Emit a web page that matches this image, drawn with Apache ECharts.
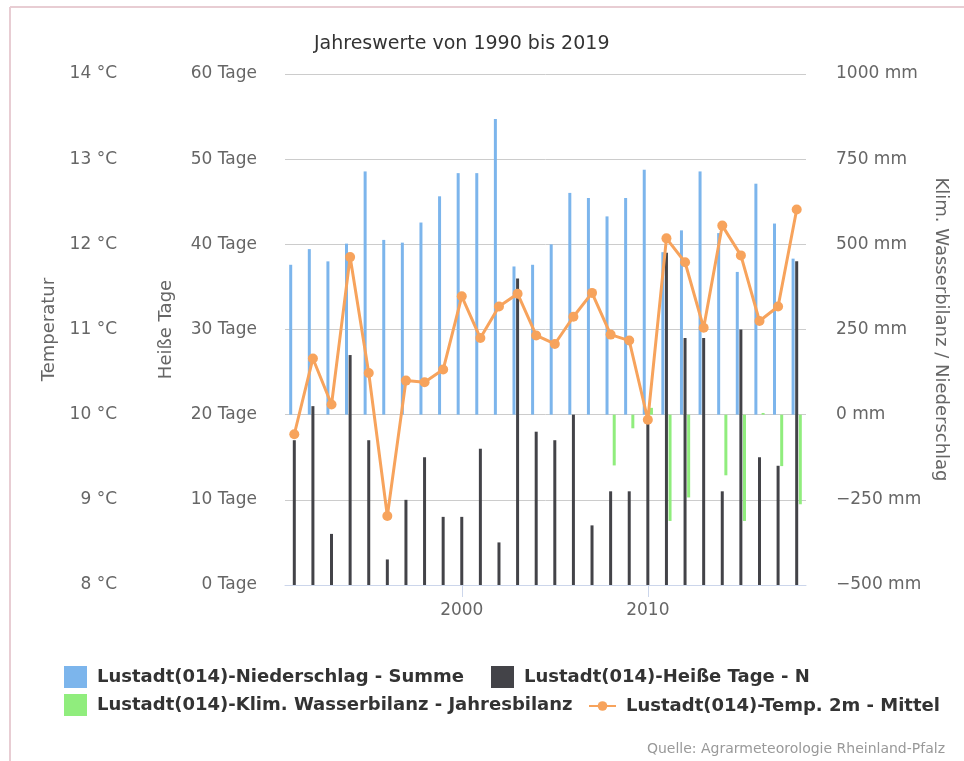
<!DOCTYPE html>
<html>
<head>
<meta charset="utf-8">
<script src="https://cdn.jsdelivr.net/npm/echarts@6/dist/echarts.min.js"></script>
<style>
html,body{margin:0;padding:0;background:#fff;}
#chart{width:964px;height:761px;}
</style>
</head>
<body>
<div id="chart"></div>
<script>
const years = ['1991','1992','1993','1994','1995','1996','1997','1998','1999','2000','2001','2002','2003','2004','2005','2006','2007','2008','2009','2010','2011','2012','2013','2014','2015','2016','2017','2018'];
const niederschlag = [440,486,450,502,714,513,505,564,641,709,709,868,435,440,500,651,636,582,636,719,477,541,714,533,419,678,561,458];
const heisseTage = [17,21,6,27,17,3,10,15,8,8,16,5,36,18,17,20,7,11,11,19,39,29,29,11,30,15,14,38];
const wasserbilanz = [null,null,null,null,null,null,null,null,null,null,null,null,null,null,null,null,null,-149,-40,20,-312,-243,0,-178,-312,5,-151,-263];
const temperatur = [9.77,10.66,10.12,11.85,10.49,8.81,10.40,10.38,10.53,11.39,10.90,11.27,11.42,10.93,10.83,11.15,11.43,10.94,10.87,9.94,12.07,11.79,11.02,12.22,11.87,11.10,11.27,12.41];
const xLabels = ['2000','2010'];

const names = {
  n: 'Lustadt(014)-Niederschlag - Summe',
  h: 'Lustadt(014)-Heiße Tage - N',
  w: 'Lustadt(014)-Klim. Wasserbilanz - Jahresbilanz',
  t: 'Lustadt(014)-Temp. 2m - Mittel'
};
const FONT = 'DejaVu Sans';
const labelStyle = {color:'#666', fontFamily:FONT, fontSize:17};
const nameStyle = {color:'#666', fontFamily:FONT, fontSize:18};
const legendText = {color:'#333', fontFamily:FONT, fontSize:18, fontWeight:'bold', padding:[0,0,0,5]};
const showX = (i, v) => xLabels.indexOf(v) >= 0;

const chart = echarts.init(document.getElementById('chart'), null, {renderer:'canvas'});
chart.setOption({
  animation:false,
  backgroundColor:'#fff',
  title:[
    {text:'Jahreswerte von 1990 bis 2019', left:309, top:30,
     textStyle:{color:'#333', fontFamily:FONT, fontSize:19, fontWeight:'normal'}},
    {text:'Quelle: Agrarmeteorologie Rheinland-Pfalz', right:14, top:737,
     textStyle:{color:'#999', fontFamily:FONT, fontSize:14, fontWeight:'normal'}}
  ],
  graphic:[
    {type:'line', shape:{x1:10,y1:7,x2:964,y2:7}, style:{stroke:'#e8cdd3', lineWidth:2}, silent:true},
    {type:'line', shape:{x1:10,y1:7,x2:10,y2:761}, style:{stroke:'#e8cdd3', lineWidth:2}, silent:true}
  ],
  legend:[
    {data:[{name:names.n, icon:'rect'}], left:64, top:666, padding:0, itemWidth:23, itemHeight:22, textStyle:legendText, selectedMode:false},
    {data:[{name:names.h, icon:'rect'}], left:491, top:666, padding:0, itemWidth:23, itemHeight:22, textStyle:legendText, selectedMode:false},
    {data:[{name:names.w, icon:'rect'}], left:64, top:694, padding:0, itemWidth:23, itemHeight:22, textStyle:legendText, selectedMode:false},
    {data:[{name:names.t}], left:588, top:697, padding:0, itemWidth:27, itemHeight:12, textStyle:legendText, selectedMode:false}
  ],
  grid:{left:285, right:158, top:74, bottom:176, containLabel:false},
  xAxis:{
    type:'category', data:years, boundaryGap:true,
    axisLine:{show:true, lineStyle:{color:'#ccd6eb', width:1}},
    axisTick:{show:true, interval:showX, alignWithLabel:true, length:12, lineStyle:{color:'#ccd6eb'}},
    axisLabel:{interval:showX, margin:17, ...labelStyle},
    splitLine:{show:false}
  },
  yAxis:[
    {type:'value', position:'left', offset:162, min:8, max:14, interval:1,
     name:'Temperatur', nameLocation:'middle', nameGap:58, nameTextStyle:nameStyle,
     axisLine:{show:false}, axisTick:{show:false},
     axisLabel:{margin:6, formatter:v => v + ' °C', ...labelStyle},
     splitLine:{show:true, lineStyle:{color:'#cccccc', width:1}}},
    {type:'value', position:'left', offset:22, min:0, max:60, interval:10,
     name:'Heiße Tage', nameLocation:'middle', nameGap:88, nameTextStyle:nameStyle,
     axisLine:{show:false}, axisTick:{show:false},
     axisLabel:{margin:6, formatter:v => v + ' Tage', ...labelStyle},
     splitLine:{show:false}},
    {type:'value', position:'right', offset:22, min:-500, max:1000, interval:250,
     name:'Klim. Wasserbilanz / Niederschlag', nameLocation:'middle', nameGap:102, nameRotate:-90, nameTextStyle:nameStyle,
     axisLine:{show:false}, axisTick:{show:false},
     axisLabel:{margin:8, formatter:v => (v < 0 ? '\u2212' + Math.abs(v) : v) + ' mm', ...labelStyle},
     splitLine:{show:false}}
  ],
  series:[
    {name:names.n, type:'bar', yAxisIndex:2, data:niederschlag, barWidth:3, barGap:'20%',
     itemStyle:{color:'#7cb5ec'}},
    {name:names.h, type:'bar', yAxisIndex:1, data:heisseTage, barWidth:3, barGap:'20%',
     itemStyle:{color:'#434348'}},
    {name:names.w, type:'bar', yAxisIndex:2, data:wasserbilanz, barWidth:3, barGap:'20%',
     itemStyle:{color:'#90ed7d'}},
    {name:names.t, type:'line', yAxisIndex:0, data:temperatur, symbol:'circle', symbolSize:10,
     lineStyle:{color:'#f7a35c', width:3}, itemStyle:{color:'#f7a35c'}, z:5}
  ]
});
</script>
</body>
</html>
